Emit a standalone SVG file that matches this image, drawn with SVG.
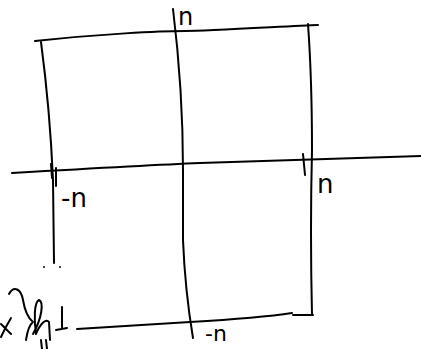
<svg xmlns="http://www.w3.org/2000/svg" width="421" height="349" viewBox="0 0 421 349">
<style>
.s{fill:none;stroke:#000;stroke-width:2;stroke-linecap:round;stroke-linejoin:round}
.t{font-family:"DejaVu Sans",sans-serif;fill:#000}
</style>
<rect width="421" height="349" fill="#fff"/>
<g id="lines">
<path class="s" d="M35,41 C100,34 160,31 185,31 S290,26 318,25"/>
<path class="s" d="M41,42 Q50,110 53,180 L54,263"/>
<path class="s" d="M51,164 L52,178 M56,168 L56,186"/>
<path class="s" d="M173,9 Q183,90 183,170 L183,240 Q185,290 193,338"/>
<path class="s" d="M12,173 Q150,165 200,163 T421,156"/>
<path class="s" d="M308,24 Q312,80 312,150 Q310,230 312,315"/>
<path class="s" d="M303,154 L305,175"/>
<path class="s" d="M77,329 L190,322 Q260,318 292,313 M293,315 L313,315"/>
<circle cx="44" cy="267" r="1" fill="#000"/>
<circle cx="60" cy="267" r="1" fill="#000"/>
</g>
<g id="scribble">
<path class="s" d="M1,324 L11,334 M11,318 Q5,328 1,337"/>
<path class="s" d="M9,294 C14,285 21,289 23,300 C25,312 28,318 33,322 C28,326 27,334 26,340"/>
<path class="s" d="M33,334 C42,318 44,302 39,300 C34,302 34,320 36,334 C40,324 46,318 49,322 L50,340"/>
<path class="s" d="M41,340 L42,349 M46,340 L47,349"/>
<path class="s" d="M62,307 L62,328 M56,330 L67,328"/>
</g>
<g id="labels">
<text class="t" x="178" y="25" font-size="24">n</text>
<text class="t" x="61" y="207" font-size="26">-n</text>
<text class="t" x="317" y="193" font-size="26">n</text>
<text class="t" x="205" y="341" font-size="22">-n</text>
</g>
</svg>
